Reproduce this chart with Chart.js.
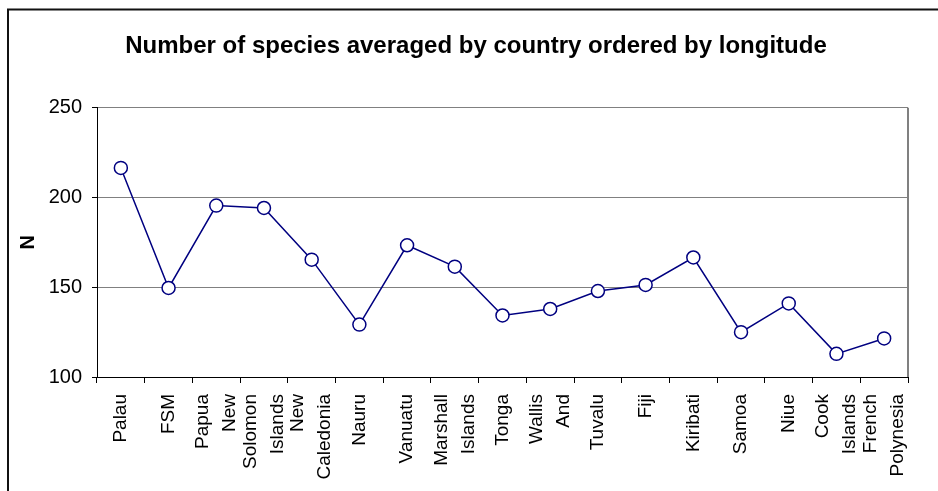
<!DOCTYPE html>
<html>
<head>
<meta charset="utf-8">
<script src="https://cdn.jsdelivr.net/npm/chart.js@4/dist/chart.umd.min.js"></script>
<style>
  html, body { margin: 0; padding: 0; background: #fff; }
  #wrap { width: 938px; height: 491px; position: relative; }
</style>
</head>
<body>
<div id="wrap"><canvas id="speciesChart"></canvas></div>
<script>
// countries, west to east; each entry is the wrapped label lines
const countries = [
  ['Palau'], ['FSM'], ['Papua', 'New'], ['Solomon', 'Islands'], ['New', 'Caledonia'],
  ['Nauru'], ['Vanuatu'], ['Marshall', 'Islands'], ['Tonga'], ['Wallis', 'And'],
  ['Tuvalu'], ['Fiji'], ['Kiribati'], ['Samoa'], ['Niue'], ['Cook', 'Islands'],
  ['French', 'Polynesia']
]
const speciesN = [216.5, 149.6, 195.5, 194.2, 165.4, 129.2, 173.4, 161.5, 134.3, 137.9, 147.9, 151.3, 166.6, 125.0, 141.0, 112.9, 121.5]
const yTicks = [100, 150, 200, 250]

const FONT = 'Arial, "Liberation Sans", sans-serif'

// outer frame, right edge of the plot box, and the wrapped x labels
const extras = {
  id: 'extras',
  beforeDraw (chart) {
    const ctx = chart.ctx
    ctx.save()
    ctx.strokeStyle = '#111'
    ctx.lineWidth = 2
    ctx.strokeRect(8, 9.5, 1200, 1200)
    ctx.restore()
  },
  afterDraw (chart) {
    const ctx = chart.ctx
    const area = chart.chartArea
    const xs = chart.scales.x
    ctx.save()
    ctx.strokeStyle = '#808080'
    ctx.lineWidth = 2
    ctx.beginPath()
    ctx.moveTo(area.right, area.top)
    ctx.lineTo(area.right, area.bottom)
    ctx.stroke()

    ctx.fillStyle = '#000'
    ctx.font = '19px ' + FONT
    ctx.textAlign = 'right'
    ctx.textBaseline = 'middle'
    const lineGap = 27
    countries.forEach((lines, i) => {
      const cx = xs.getPixelForValue(i)
      lines.forEach((line, j) => {
        const lx = cx + (j - (lines.length - 1) / 2) * lineGap
        ctx.save()
        ctx.translate(lx, area.bottom + 17)
        ctx.rotate(-Math.PI / 2)
        ctx.fillText(line, 0, 0)
        ctx.restore()
      })
    })
    ctx.restore()
  }
}

new Chart(document.getElementById('speciesChart').getContext('2d'), {
  type: 'line',
  data: {
    labels: countries.map((l) => l.join(' ')),
    datasets: [
      {
        label: 'N',
        data: speciesN,
        borderColor: '#000080',
        borderWidth: 1.5,
        tension: 0,
        pointRadius: 6.5,
        pointHoverRadius: 6.5,
        pointBorderWidth: 1.5,
        pointBackgroundColor: '#ffffff',
        pointBorderColor: '#000080'
      }
    ]
  },
  options: {
    responsive: true,
    maintainAspectRatio: false,
    animation: false,
    // left padding wider so the title centres where the original one sits
    layout: { padding: { top: 8, left: 44, right: 30, bottom: 108 } },
    plugins: {
      legend: { display: false },
      tooltip: { enabled: false },
      title: {
        display: true,
        text: 'Number of species averaged by country ordered by longitude',
        color: '#000',
        font: { family: FONT, size: 24, weight: 'bold' },
        padding: { top: 24, bottom: 47 }
      }
    },
    scales: {
      x: {
        type: 'category',
        offset: true,
        border: { color: '#000', width: 1 },
        grid: { offset: true, drawOnChartArea: false, tickLength: 6, color: '#000' },
        ticks: { display: false }
      },
      y: {
        min: 100,
        max: 250,
        afterBuildTicks: (scale) => { scale.ticks = yTicks.map((v) => ({ value: v })) },
        afterFit: (scale) => { scale.width = 53 },
        border: { color: '#000', width: 1 },
        grid: { color: '#808080', tickColor: '#000', tickLength: 5 },
        ticks: { color: '#000', padding: 10, font: { family: FONT, size: 20 } },
        title: {
          display: true,
          text: 'N',
          color: '#000',
          font: { family: FONT, size: 20, weight: 'bold' },
          padding: { top: -28, bottom: 9 }
        }
      }
    }
  },
  plugins: [extras]
})
</script>
</body>
</html>
